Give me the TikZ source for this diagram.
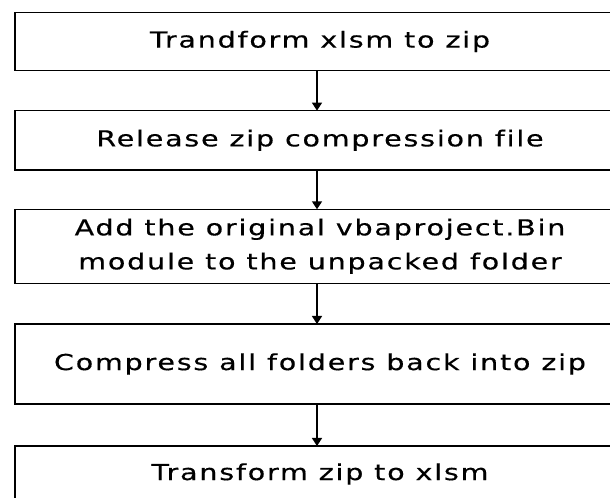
\documentclass[tikz,border=0pt]{standalone}
\usepackage{fontspec}
\setmainfont[LetterSpace=8,FakeStretch=1.3,FakeBold=0.4,Ligatures=NoCommon]{DejaVu Sans}
\usetikzlibrary{arrows.meta}
\begin{document}
\begin{tikzpicture}[x=0.75pt,y=-0.75pt,
  stepbox/.style={draw=black,line width=1pt,rectangle,minimum width=457.5pt,inner sep=0pt,outer sep=0pt,align=center,font=\fontsize{16.5}{25.5}\selectfont},
  arr/.style={line width=1.1pt,-{Triangle[width=7.5pt,length=6pt]}}]
\useasboundingbox (0,0) rectangle (610,498);
\clip (0,0) rectangle (610,498);
\node[stepbox,minimum height=43.2pt] (b1) at (320,41.5) {Trandform xlsm to zip};
\node[stepbox,minimum height=44.5pt] (b2) at (320,140.3) {Release zip compression file};
\node[stepbox,minimum height=55.5pt] (b3) at (320,246.3) {Add the original vbaproject.Bin\\module to the unpacked folder};
\node[stepbox,minimum height=60pt] (b4) at (320,364) {Compress all folders back into zip};
\node[stepbox,minimum height=42pt] (b5) at (320,474) {Transform zip to xlsm};
\coordinate (ax) at (317,0);
\draw[arr] (b1.south -| ax) -- (b2.north -| ax);
\draw[arr] (b2.south -| ax) -- (b3.north -| ax);
\draw[arr] (b3.south -| ax) -- (b4.north -| ax);
\draw[arr] (b4.south -| ax) -- (b5.north -| ax);
\end{tikzpicture}
\end{document}
